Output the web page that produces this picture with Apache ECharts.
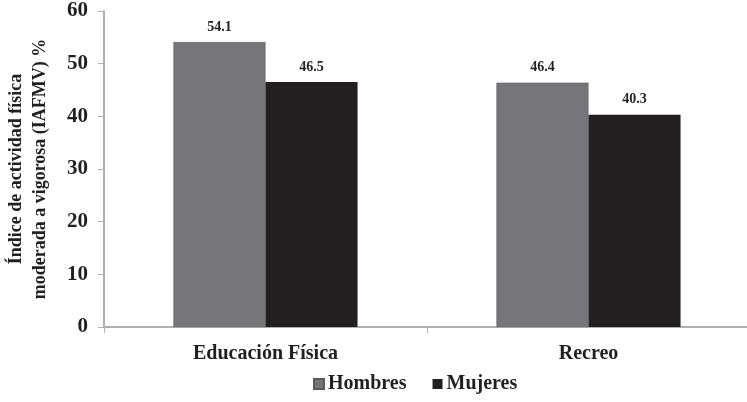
<!DOCTYPE html>
<html><head><meta charset="utf-8">
<script src="https://cdn.jsdelivr.net/npm/echarts@6/dist/echarts.min.js"></script>
<style>html,body{margin:0;padding:0;background:#fff}#c{width:747px;height:402px}</style>
</head><body><div id="c"></div>
<script>
var categories = ['Educación Física', 'Recreo'];
var hombres = [54.1, 46.4];
var mujeres = [46.5, 40.3];
var yTicks = [0, 10, 20, 30, 40, 50, 60];
var seriesNames = ['Hombres', 'Mujeres'];

var font = '"Liberation Serif", "Times New Roman", serif';
var chart = echarts.init(document.getElementById('c'));
chart.setOption({
  animation: false,
  textStyle: { fontFamily: font },
  grid: { left: 104, right: -3, top: 11, bottom: 75, containLabel: false, outerBoundsMode: 'none' },
  legend: {
    data: seriesNames, bottom: 3, left: 308, icon: 'rect', itemWidth: 10, itemHeight: 10, itemGap: 26,
    textStyle: { fontFamily: font, fontWeight: 'bold', fontSize: 20, color: '#231f20', padding: [0, 0, 0, -1] }
  },
  xAxis: {
    type: 'category', data: categories,
    axisLine: { lineStyle: { color: '#b0b0b0', width: 2 } },
    axisTick: { show: true, length: 6, alignWithLabel: false, lineStyle: { color: '#b0b0b0' } },
    axisLabel: { margin: 17, fontFamily: font, fontWeight: 'bold', fontSize: 20, color: '#231f20' }
  },
  yAxis: {
    type: 'value', min: yTicks[0], max: yTicks[yTicks.length - 1], interval: 10,
    name: 'Índice de actividad física\nmoderada a vigorosa (IAFMV) %',
    nameLocation: 'middle', nameRotate: 90, nameGap: 52,
    nameTextStyle: { fontFamily: font, fontWeight: 'bold', fontSize: 18, color: '#231f20', lineHeight: 24 },
    axisLine: { show: true, lineStyle: { color: '#b0b0b0', width: 2 } },
    axisTick: { show: true, length: 6, lineStyle: { color: '#b0b0b0' } },
    splitLine: { show: false },
    axisLabel: { margin: 16, fontFamily: font, fontWeight: 'bold', fontSize: 21, color: '#231f20' }
  },
  series: [
    { name: seriesNames[0], type: 'bar', data: hombres, barGap: '0%', barCategoryGap: '43%',
      itemStyle: { color: '#76767a', borderColor: '#5a5a5e', borderWidth: 0.5 },
      label: { show: true, position: 'top', distance: 8, fontFamily: font, fontWeight: 'bold', fontSize: 14, color: '#231f20', formatter: function(p){return p.value.toFixed(1);} } },
    { name: seriesNames[1], type: 'bar', data: mujeres, barGap: '0%', barCategoryGap: '43%',
      itemStyle: { color: '#231f20' },
      label: { show: true, position: 'top', distance: 8, fontFamily: font, fontWeight: 'bold', fontSize: 14, color: '#231f20', formatter: function(p){return p.value.toFixed(1);} } }
  ]
});
</script></body></html>
